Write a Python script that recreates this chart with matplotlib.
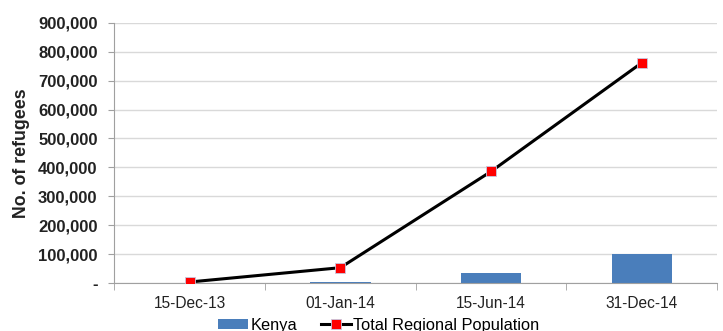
import matplotlib.pyplot as plt
from matplotlib.ticker import FuncFormatter
import numpy as np

plt.rcParams['font.family'] = ['Liberation Sans', 'DejaVu Sans']

dates = ['15-Dec-13', '01-Jan-14', '15-Jun-14', '31-Dec-14']
kenya = [0, 2000, 34500, 99000]
total_regional = [3500, 53000, 386000, 762000]

fig = plt.figure(figsize=(7.23, 3.31), dpi=100)
ax = fig.add_axes([0.158, 0.145, 0.834, 0.786])

x = np.arange(len(dates))
bars = ax.bar(x, kenya, width=0.4, color='#4a7ebb', zorder=2, label='Kenya')
line, = ax.plot(x, total_regional, color='black', lw=2.2, marker='s', markersize=7,
                markerfacecolor='#ff0000', markeredgecolor='#c8c8e0', markeredgewidth=0.6,
                zorder=3, label='Total Regional Population')

ax.set_xlim(-0.5, len(dates) - 0.5)
ax.set_ylim(0, 900000)
ax.set_yticks(np.arange(0, 900001, 100000))


def fmt(v, pos):
    return '-' if v == 0 else f'{int(v):,}'


ax.yaxis.set_major_formatter(FuncFormatter(fmt))
ax.set_xticks(x)
ax.set_xticklabels(dates, fontsize=11.2, color='#222222')
ax.set_xticks(np.arange(-0.5, len(dates)), minor=True)
ax.tick_params(axis='x', which='major', length=0, pad=9)
ax.tick_params(axis='x', which='minor', length=5, color='#a0a0a0')
ax.tick_params(axis='y', length=4, color='#a0a0a0', labelsize=12, pad=8)
for lbl in ax.get_yticklabels():
    lbl.set_fontweight('bold')
    lbl.set_color('#222222')

ax.grid(axis='y', color='#d9d9d9', lw=1, zorder=0)
ax.set_axisbelow(True)
for side in ('top', 'right'):
    ax.spines[side].set_visible(False)
for side in ('left', 'bottom'):
    ax.spines[side].set_color('#a0a0a0')

ax.set_ylabel('No. of refugees', fontsize=12.8, fontweight='bold', color='#222222', labelpad=6)

fig.legend(handles=[bars, line], loc='center', bbox_to_anchor=(0.524, 0.018), ncol=2,
           frameon=False, fontsize=11.8, handlelength=1.85, handletextpad=0.15,
           columnspacing=1.4, handleheight=0.6)

fig.savefig('out.png', dpi=100)
